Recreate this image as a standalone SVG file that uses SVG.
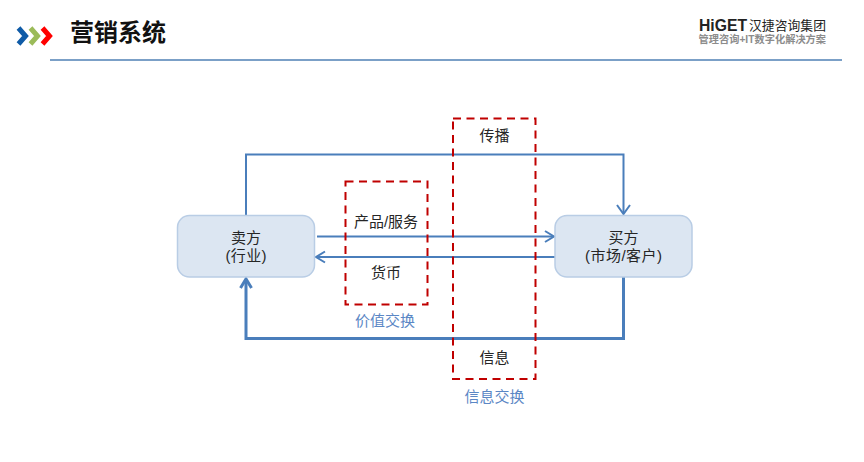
<svg xmlns="http://www.w3.org/2000/svg" width="864" height="462" viewBox="0 0 864 462">
<style>
text{font-family:"Liberation Sans","Noto Sans CJK SC",sans-serif;text-anchor:middle}
.t{font-size:15px;fill:#262626}
.b{font-size:15px;fill:#5b87c5}
.l{text-anchor:start}
.node{fill:#dce6f2;stroke:#b9cde5;stroke-width:1.5}
.red{fill:none;stroke:#c00000;stroke-width:2;stroke-dasharray:8 5.500}
.c{fill:none;stroke:#4a7ebb;stroke-width:2}
.c3{fill:none;stroke:#4a7ebb;stroke-width:3}
.h{fill:none;stroke:#4a7ebb;stroke-linejoin:miter}
.ch{fill:none;stroke-width:5;stroke-linejoin:miter}
</style>
<rect width="864" height="462" fill="#fff"/>
<g id="header">
<path class="ch" stroke="#0f5ba7" d="M18.500 28L25.500 36L18.500 44"/>
<path class="ch" stroke="#9bbb59" d="M30.500 28L37.500 36L30.500 44"/>
<path class="ch" stroke="#ff0000" d="M42.500 28L49.500 36L42.500 44"/>
<text x="118" y="41" style="font-size:24px;font-weight:700;fill:#111">营销系统</text>
<line x1="50" y1="60" x2="842" y2="60" stroke="#4f81b5" stroke-width="1.600"/>
</g>
<g id="logo">
<text class="l" x="699" y="30.500" textLength="48" lengthAdjust="spacingAndGlyphs" style="font-size:17px;font-weight:700;fill:#222">HiGET</text>
<text class="l" x="749" y="29.500" textLength="77" style="font-size:12.800px;fill:#222">汉捷咨询集团</text>
<text class="l" x="698.500" y="42.500" textLength="127.500" style="font-size:10.200px;font-weight:700;fill:#8c8c8c">管理咨询+IT数字化解决方案</text>
</g>
<g id="connectors">
<path class="c" d="M246 215V154.500H623.500V213"/>
<path class="h" stroke-width="2" d="M617 205L623.500 214L630 205"/>
<path class="c" d="M317 236.500H553"/>
<path class="h" stroke-width="2" d="M545 231L554 236.500L545 242"/>
<path class="c" d="M555 257H317"/>
<path class="h" stroke-width="2" d="M325 251.500L316 257L325 262.500"/>
<path class="c3" d="M623.500 277V338.500H246V280"/>
<path class="h" stroke-width="3" d="M240.500 288L246 279L251.500 288"/>
</g>
<g id="seller">
<rect class="node" x="177.500" y="215.500" width="137" height="61.500" rx="12"/>
<text class="t" x="246" y="243">卖方</text>
<text class="t" x="246" y="261" textLength="41">(行业)</text>
</g>
<g id="buyer">
<rect class="node" x="555" y="215.500" width="137" height="61.500" rx="12"/>
<text class="t" x="623.500" y="243">买方</text>
<text class="t" x="623.500" y="261" textLength="77">(市场/客户)</text>
</g>
<g id="value-exchange">
<rect class="red" x="345.500" y="181.500" width="82" height="123"/>
<text class="t" x="386" y="227">产品/服务</text>
<text class="t" x="386" y="278">货币</text>
<text class="b" x="385" y="326">价值交换</text>
</g>
<g id="info-exchange">
<rect class="red" x="453" y="118.500" width="82.500" height="260.500"/>
<text class="t" x="494.500" y="141">传播</text>
<text class="t" x="494.500" y="363">信息</text>
<text class="b" x="494.500" y="402">信息交换</text>
</g>
</svg>
